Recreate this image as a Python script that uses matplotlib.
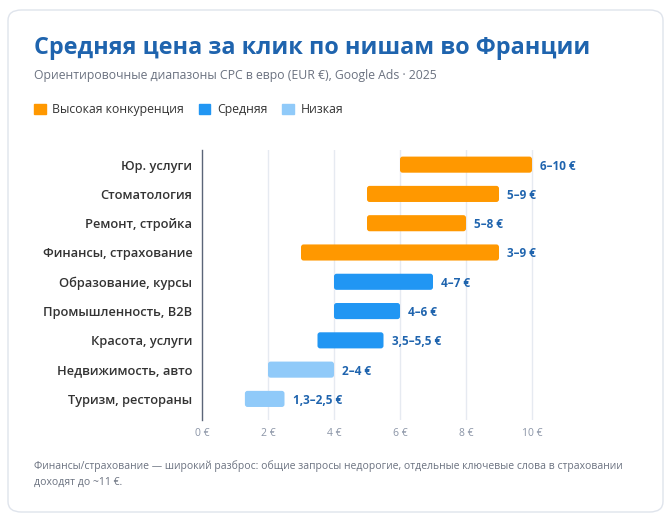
import matplotlib
matplotlib.use("Agg")
import matplotlib.pyplot as plt
from matplotlib.patches import FancyBboxPatch, Patch

# данные
categories = ["Юр. услуги", "Стоматология", "Ремонт, стройка", "Финансы, страхование",
              "Образование, курсы", "Промышленность, B2B", "Красота, услуги",
              "Недвижимость, авто", "Туризм, рестораны"]
cpc_low = [6, 5, 5, 3, 4, 4, 3.5, 2, 1.3]
cpc_high = [10, 9, 8, 9, 7, 6, 5.5, 4, 2.5]
value_labels = ["6–10 €", "5–9 €", "5–8 €", "3–9 €", "4–7 €", "4–6 €",
                "3,5–5,5 €", "2–4 €", "1,3–2,5 €"]
competition = ["high", "high", "high", "high", "mid", "mid", "mid", "low", "low"]
legend_labels = {"high": "Высокая конкуренция", "mid": "Средняя", "low": "Низкая"}
x_ticks = [0, 2, 4, 6, 8, 10]

colors = {"high": "#FF9800", "mid": "#2196F3", "low": "#90CAF9"}

plt.rcParams["font.family"] = ["Open Sans", "DejaVu Sans"]

fig = plt.figure(figsize=(6.72, 5.22), dpi=100)
fig.patch.set_facecolor("white")

# карточка
card = FancyBboxPatch((8 / 672, 10 / 522), 655 / 672, 502 / 522,
                      boxstyle="round,pad=0,rounding_size=0.02",
                      transform=fig.transFigure, facecolor="white",
                      edgecolor="#dfe4ec", linewidth=1, zorder=-5)
fig.patches.append(card)

fig.text(34 / 672, 1 - 48 / 522, "Средняя цена за клик по нишам во Франции",
         fontsize=16.8, fontweight="bold", color="#1F64AE", va="center")
fig.text(34 / 672, 1 - 76 / 522,
         "Ориентировочные диапазоны CPC в евро (EUR €), Google Ads · 2025",
         fontsize=8.8, color="#6b7280", va="center")

handles = [Patch(facecolor=colors[k], edgecolor=colors[k], label=legend_labels[k])
           for k in ["high", "mid", "low"]]
fig.legend(handles=handles, loc="center left", bbox_to_anchor=(23 / 672, 1 - 109.5 / 522),
           ncol=3, frameon=False, fontsize=8.8, handlelength=0.95, handleheight=0.95,
           handletextpad=0.55, columnspacing=1.2, labelcolor="#333333")

ax = fig.add_axes([202 / 672, 1 - 420 / 522, 396 / 672, 270 / 522])
ax.set_zorder(2)
y = list(range(len(categories)))
widths = [h - l for l, h in zip(cpc_low, cpc_high)]
bar_colors = [colors[c] for c in competition]
bars = ax.barh(y, widths, left=cpc_low, height=0.55, color=bar_colors, zorder=3)

ax.set_xlim(0, 12)
ax.set_ylim(8.72, -0.5)

# скругляем углы полос
for rect, c in zip(bars, bar_colors):
    rect.set_visible(False)
    ax.add_patch(FancyBboxPatch((rect.get_x(), rect.get_y()), rect.get_width(), rect.get_height(),
                                boxstyle="round,pad=0,rounding_size=0.08",
                                mutation_aspect=1.13, facecolor=c, edgecolor="none", zorder=3))

for yi, hi, lab in zip(y, cpc_high, value_labels):
    ax.annotate(lab, (hi, yi), xytext=(6, 0), textcoords="offset points",
                va="center_baseline", ha="left", fontsize=8.5, fontweight="bold",
                color="#1F64AE")

ax.set_yticks(y)
ax.set_yticklabels(categories, fontsize=9.3, fontweight="semibold", color="#333333")
ax.set_xticks(x_ticks)
ax.set_xticklabels([f"{t} €" for t in x_ticks], fontsize=7.5, color="#8a94a6")
ax.tick_params(axis="both", length=0)
ax.tick_params(axis="y", pad=7)
ax.tick_params(axis="x", pad=6)

for t in x_ticks[1:]:
    ax.axvline(t, color="#e6eaf1", linewidth=1, zorder=1)

for s in ["top", "right", "bottom"]:
    ax.spines[s].set_visible(False)
ax.spines["left"].set_color("#5b6578")
ax.spines["left"].set_linewidth(1)
ax.set_facecolor("none")

fig.text(34 / 672, 1 - 474 / 522,
         "Финансы/страхование — широкий разброс: общие запросы недорогие, отдельные ключевые слова в страховании\nдоходят до ~11 €.",
         fontsize=7.5, color="#6b7280", va="center", linespacing=1.6)

fig.savefig("out.png", dpi=100)
